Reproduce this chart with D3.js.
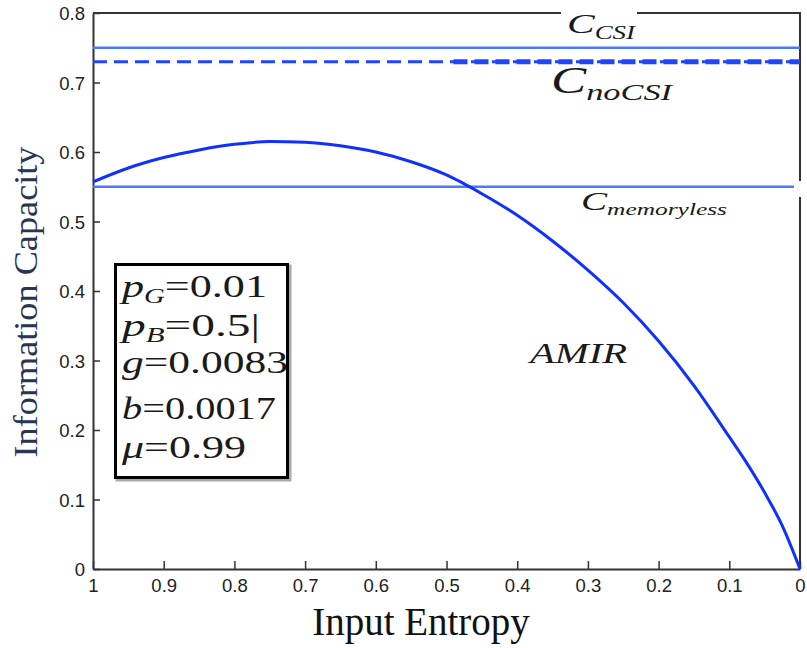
<!DOCTYPE html>
<meta charset="utf-8">

<style>

body { margin: 0; background: #fff; }

</style>

<svg class="chart" width="807" height="648"></svg>

<script src="https://d3js.org/d3.v7.min.js"></script>

<script>

// values
var entropy = [1, 0.95, 0.9, 0.85, 0.8, 0.75, 0.7, 0.65, 0.6, 0.55, 0.5, 0.45,
               0.4, 0.35, 0.3, 0.25, 0.2, 0.15, 0.1, 0.075, 0.05, 0.025, 0];
var amir    = [0.557, 0.577, 0.592, 0.603, 0.611, 0.615, 0.614, 0.609, 0.600, 0.586, 0.567, 0.540,
               0.509, 0.472, 0.430, 0.383, 0.328, 0.264, 0.190, 0.152, 0.110, 0.062, 0];
var cCSI = 0.75;
var cNoCSI = 0.73;
var cMemoryless = 0.55;

var xTicks = [1, 0.9, 0.8, 0.7, 0.6, 0.5, 0.4, 0.3, 0.2, 0.1, 0];
var yTicks = [0, 0.1, 0.2, 0.3, 0.4, 0.5, 0.6, 0.7, 0.8];

var params = [
  [{t: "p", it: true}, {t: "G", it: true, sub: true}, {t: "=0.01"}],
  [{t: "p", it: true}, {t: "B", it: true, sub: true}, {t: "=0.5|"}],
  [{t: "g", it: true}, {t: "=0.0083"}],
  [{t: "b", it: true}, {t: "=0.0017"}],
  [{t: "\u03bc", it: true}, {t: "=0.99"}]
];

var svg = d3.select("svg.chart");
var serif = '"Liberation Serif", "Times New Roman", serif';
var sans = '"Liberation Sans", Arial, sans-serif';

var mLeft = 93, mRight = 800, mTop = 13, mBottom = 569;

var x = d3.scaleLinear().domain([1, 0]).range([mLeft, mRight]);
var y = d3.scaleLinear().domain([0, 0.8]).range([mBottom, mTop]);

// axes, ticks inside
var xAxis = svg.append("g")
  .attr("transform", `translate(0,${mBottom})`)
  .call(d3.axisBottom(x).tickValues(xTicks).tickSize(-8).tickSizeOuter(0).tickPadding(10)
    .tickFormat(function(d) { return d === 0 || d === 1 ? d : d.toFixed(1); }));

var yAxis = svg.append("g")
  .attr("transform", `translate(${mLeft},0)`)
  .call(d3.axisLeft(y).tickValues(yTicks).tickSize(-7).tickSizeOuter(0).tickPadding(8)
    .tickFormat(function(d) { return d === 0 ? "0" : d.toFixed(1); }));

[xAxis, yAxis].forEach(function(a) {
  a.attr("font-family", sans).attr("font-size", 18.5);
  a.select(".domain").attr("stroke", "#333").attr("stroke-width", 2);
  a.selectAll(".tick line").attr("stroke", "#333").attr("stroke-width", 1.5);
  a.selectAll(".tick text").attr("fill", "#222");
});
yAxis.selectAll(".tick text").attr("dy", "0.36em");

// frame (top and right)
svg.append("path")
  .attr("d", `M${mLeft},${mTop}H${mRight}V${mBottom}`)
  .attr("fill", "none")
  .attr("stroke", "#333")
  .attr("stroke-width", 2);

// horizontal capacity lines
svg.append("line")
  .attr("x1", x(1)).attr("x2", x(0)).attr("y1", y(cCSI)).attr("y2", y(cCSI))
  .attr("stroke", "#4c78ff").attr("stroke-width", 2.5);

svg.append("line")
  .attr("x1", x(1)).attr("x2", x(0)).attr("y1", y(cNoCSI)).attr("y2", y(cNoCSI))
  .attr("stroke", "#1f45ff").attr("stroke-width", 3).attr("stroke-dasharray", "14,7");

svg.append("line")
  .attr("x1", x(0.5)).attr("x2", x(0)).attr("y1", y(cNoCSI)).attr("y2", y(cNoCSI))
  .attr("stroke", "#1f45ff").attr("stroke-width", 5).attr("stroke-dasharray", "14,7")
  .attr("stroke-dashoffset", 14);

svg.append("line")
  .attr("x1", x(1)).attr("x2", x(0)).attr("y1", y(cMemoryless)).attr("y2", y(cMemoryless))
  .attr("stroke", "#4c78ff").attr("stroke-width", 2.5);

// AMIR curve
var line = d3.line()
  .x(function(d, i) { return x(entropy[i]); })
  .y(function(d) { return y(d); })
  .curve(d3.curveMonotoneX);

svg.append("path")
  .datum(amir)
  .attr("d", line)
  .attr("fill", "none")
  .attr("stroke", "#1030ff")
  .attr("stroke-width", 3);

// math style text
function mathText(px, py, size, parts, width) {
  var t = svg.append("text")
    .attr("x", px).attr("y", py)
    .attr("font-family", serif)
    .attr("font-size", size)
    .attr("fill", "#1a1a1a");
  var prevSub = false;
  parts.forEach(function(p) {
    var s = t.append("tspan").text(p.t).attr("font-style", p.it ? "italic" : "normal");
    if (p.sub) s.attr("font-size", size * 0.65);
    var dy = (p.sub && !prevSub) ? size * 0.2 : (!p.sub && prevSub) ? -size * 0.2 : 0;
    if (dy) s.attr("dy", dy);
    prevSub = !!p.sub;
  });
  if (width) t.attr("textLength", width).attr("lengthAdjust", "spacingAndGlyphs");
  return t;
}

// label backgrounds breaking the frame
svg.append("rect").attr("x", 561).attr("y", 6).attr("width", 76).attr("height", 14).attr("fill", "#fff");
svg.append("rect").attr("x", 794).attr("y", 181).attr("width", 12).attr("height", 16).attr("fill", "#fff");

mathText(567, 33, 28, [{t: "C", it: true}, {t: "CSI", it: true, sub: true}], 68);
mathText(551, 93, 37, [{t: "C", it: true}, {t: "noCSI", it: true, sub: true}], 121);
mathText(581, 210, 25, [{t: "C", it: true}, {t: "memoryless", it: true, sub: true}], 146);
mathText(530, 363, 30, [{t: "AMIR", it: true}], 97);

// parameter box
svg.append("rect")
  .attr("x", 117).attr("y", 266).attr("width", 173).attr("height", 214)
  .attr("fill", "none").attr("stroke", "#aaa").attr("stroke-width", 3);
svg.append("rect")
  .attr("x", 115.5).attr("y", 264.5).attr("width", 172).attr("height", 213)
  .attr("fill", "#fff").attr("stroke", "#000").attr("stroke-width", 3);

var paramY = [297, 336, 373, 419, 458];
var paramW = [145, 138, 166, 154, 124];
params.forEach(function(p, i) {
  mathText(122, paramY[i], 32, p, paramW[i]);
});

// axis titles
svg.append("text")
  .attr("font-family", serif)
  .attr("x", 421).attr("y", 635)
  .attr("text-anchor", "middle")
  .attr("font-size", 39)
  .attr("fill", "#111")
  .text("Input Entropy");

svg.append("text")
  .attr("font-family", serif)
  .attr("transform", "translate(37,302) rotate(-90)")
  .attr("text-anchor", "middle")
  .attr("font-size", 33)
  .attr("fill", "#2a3552")
  .attr("textLength", 311)
  .attr("lengthAdjust", "spacingAndGlyphs")
  .text("Information Capacity");

</script>
